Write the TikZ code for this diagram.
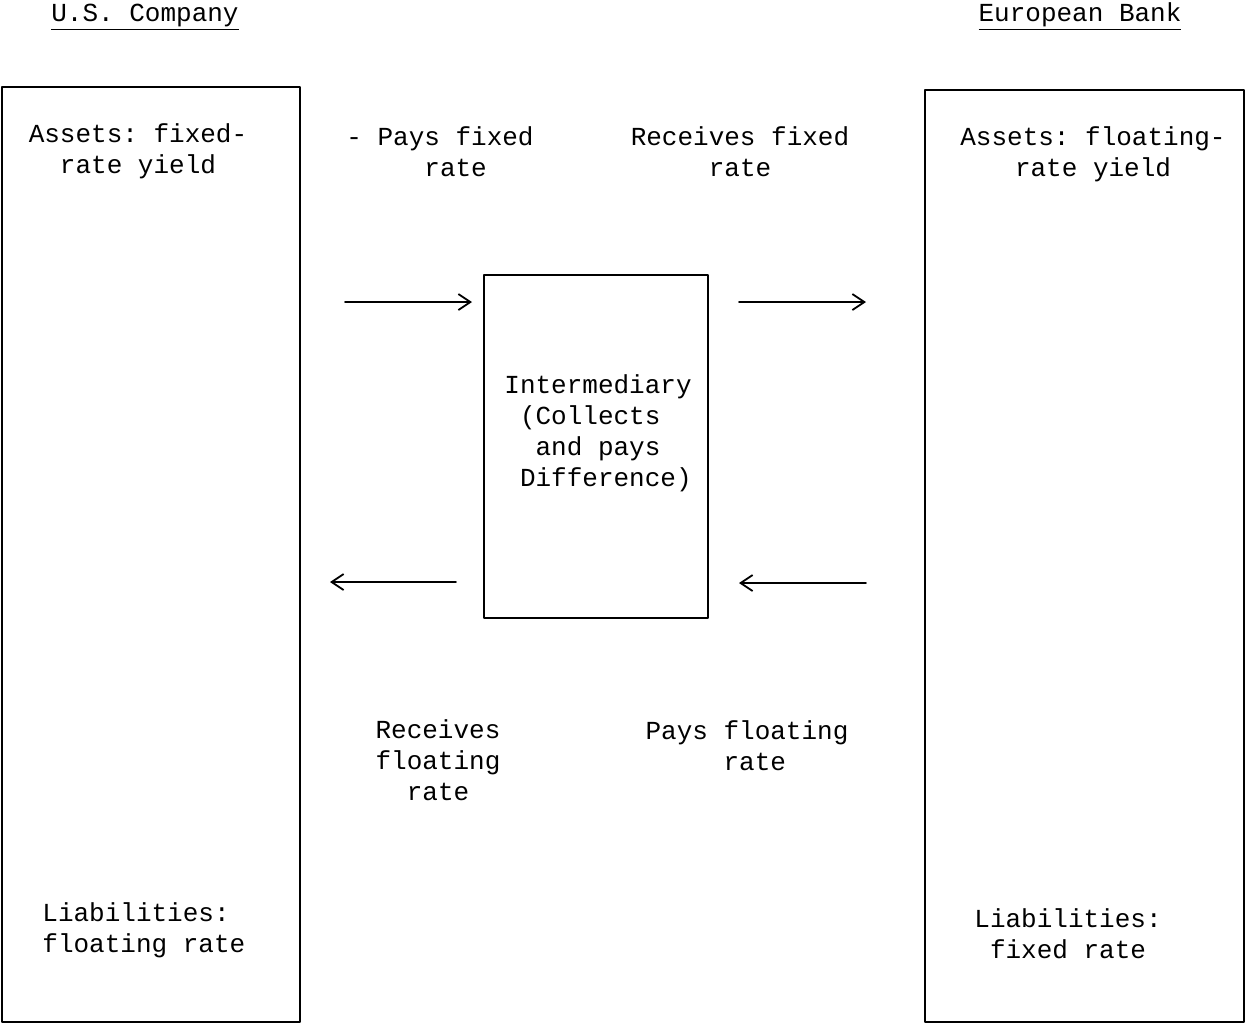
\documentclass[tikz,border=0pt]{standalone}
\usepackage{fontspec}
\setmonofont{Liberation Mono}
\usetikzlibrary{arrows.meta}
\tikzset{
  txt/.style={font=\ttfamily\fontsize{13}{15.5}\selectfont, align=center, inner sep=0pt},
  flow/.style={line width=0.9pt, -{Straight Barb[length=6pt, width=8pt, line width=0.9pt]}}
}
\newcommand{\onechar}{\phantom{x}}
\begin{document}
\begin{tikzpicture}[line cap=round,line join=round,x=0.5pt,y=-0.5pt]
                \useasboundingbox (0,0) rectangle (1246,1025);
                % the three frames
                \draw [line width=0.7pt] (2,87) rectangle (300,1022);
                \draw [line width=0.7pt] (925,90) rectangle (1244,1022);
                \draw [line width=0.7pt] (484,275) rectangle (708,618);
                % headings
                \node[txt, anchor=base] (usco) at (145,21) {\underline{U.S. Company}};
                \node[txt, anchor=base] (eubank) at (1080,21) {\underline{European Bank}};
                % left side
                \node[txt] (usassets) at (138,151) {Assets: fixed-\\rate yield};
                \node[txt, align=left, anchor=west] (usliab) at (42,930) {Liabilities:\\floating rate};
                % right side
                \node[txt] (euassets) at (1093,154) {Assets: floating-\\rate yield};
                \node[txt] (euliab) at (1068,934) {Liabilities:\\fixed rate};
                % middle
                \node[txt, align=left, anchor=west] (inter) at (504,433) {Intermediary\\\onechar(Collects\\\onechar\onechar and pays\\\onechar Difference)};
                \node[txt] (paysfix) at (440,152) {- Pays fixed\\\phantom{- }rate};
                \node[txt] (recfix) at (740,152) {Receives fixed\\rate};
                \node[txt] (recfloat) at (438,760) {Receives\\floating\\rate};
                \node[txt] (paysfloat) at (747,746) {Pays floating\\\phantom{P}rate};
                % arrows
                \coordinate (a1) at (345,302);
                \coordinate (a2) at (472,302);
                \coordinate (b1) at (739,302);
                \coordinate (b2) at (866,302);
                \coordinate (c1) at (456,582);
                \coordinate (c2) at (330,582);
                \coordinate (d1) at (866,583);
                \coordinate (d2) at (739,583);
                \draw [flow] (a1) -- (a2);
                \draw [flow] (b1) -- (b2);
                \draw [flow] (c1) -- (c2);
                \draw [flow] (d1) -- (d2);
\end{tikzpicture}
\end{document}
